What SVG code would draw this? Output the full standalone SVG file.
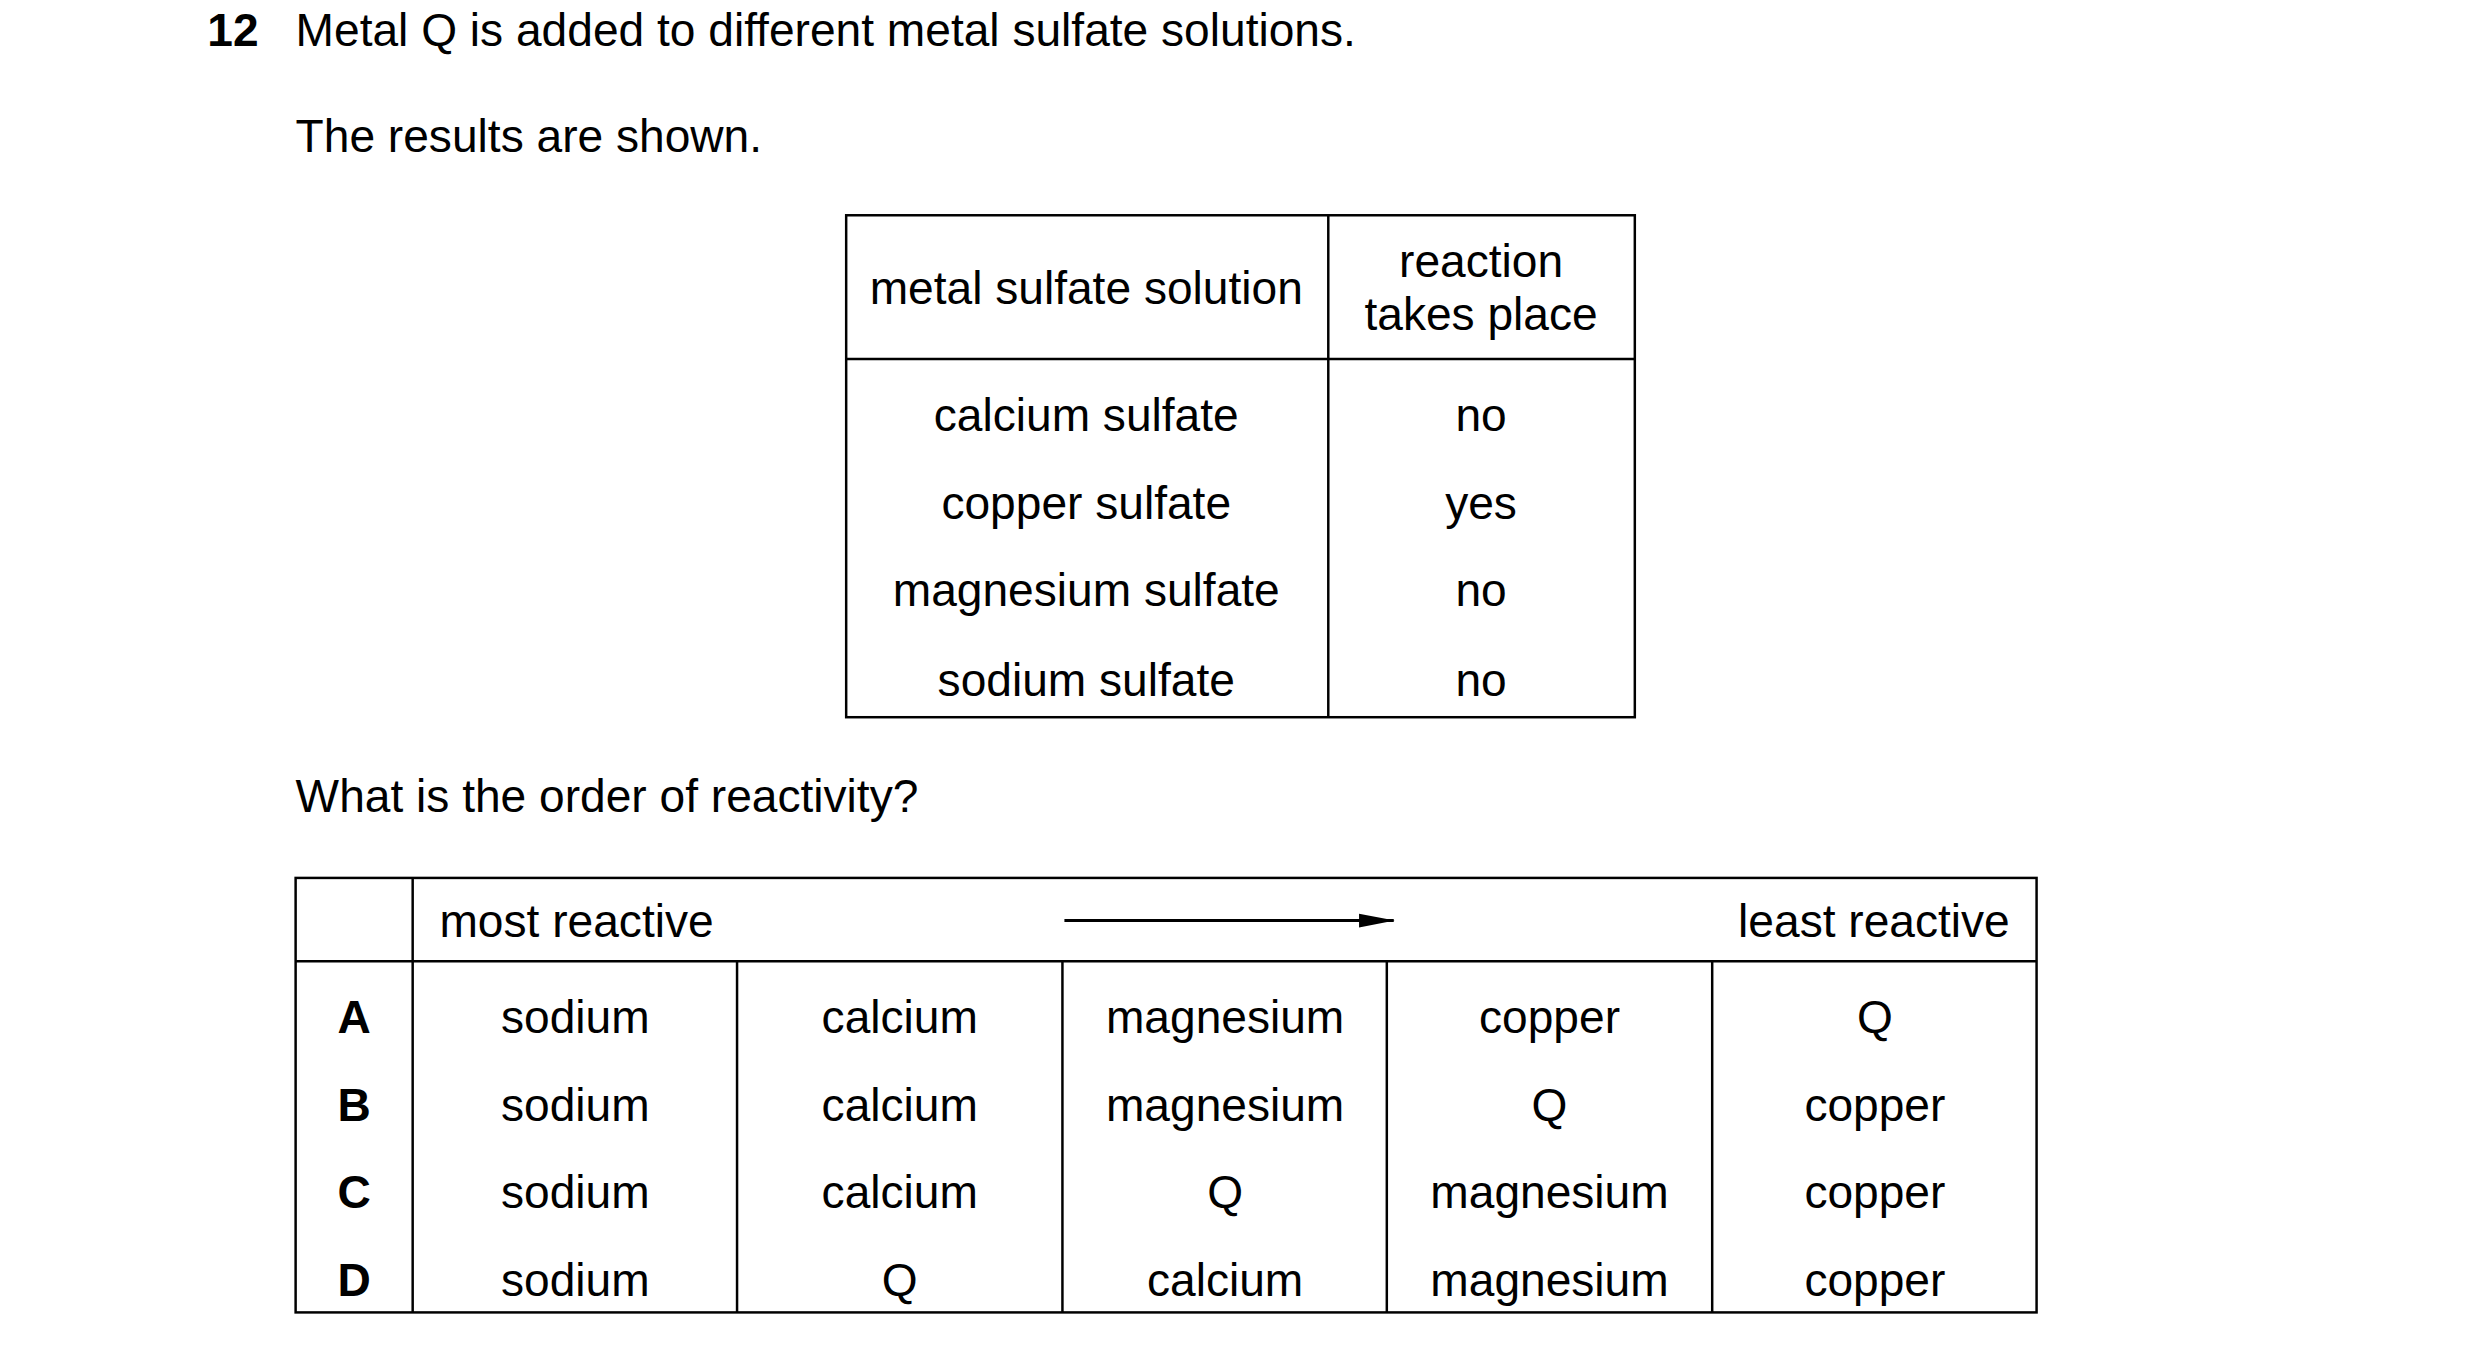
<svg xmlns="http://www.w3.org/2000/svg" width="2480" height="1356" viewBox="0 0 2480 1356">
<style>
text{font-family:"Liberation Sans",Arial,sans-serif;font-size:46.5px;fill:#000}
.c{text-anchor:middle;dominant-baseline:central}
.b{font-weight:bold}
.ln{stroke:#000;stroke-width:2.5;fill:none}
</style>
<defs><marker id="ah" markerWidth="36" markerHeight="16" refX="35" refY="8" orient="auto" markerUnits="userSpaceOnUse"><path d="M0,1 L36,8 L0,15 z"/></marker></defs>
<rect width="2480" height="1356" fill="#fff"/>
<g transform="scale(0.992)">
<text x="209" y="46" class="b">12</text>
<text x="298" y="46">Metal Q is added to different metal sulfate solutions.</text>
<text x="298" y="153">The results are shown.</text>
<g id="table1">
<rect class="ln" x="853" y="217" width="795" height="506"/>
<line class="ln" x1="1339" y1="217" x2="1339" y2="723"/>
<line class="ln" x1="853" y1="362" x2="1648" y2="362"/>
<text class="c" x="1095" y="290">metal sulfate solution</text>
<text class="c" x="1493" y="263">reaction</text>
<text class="c" x="1493" y="317">takes place</text>
<text class="c" x="1095" y="418">calcium sulfate</text>
<text class="c" x="1095" y="507">copper sulfate</text>
<text class="c" x="1095" y="595">magnesium sulfate</text>
<text class="c" x="1095" y="685">sodium sulfate</text>
<text class="c" x="1493" y="418">no</text>
<text class="c" x="1493" y="507">yes</text>
<text class="c" x="1493" y="595">no</text>
<text class="c" x="1493" y="685">no</text>
</g>
<text x="298" y="819">What is the order of reactivity?</text>
<g id="table2">
<rect class="ln" x="298" y="885" width="1755" height="438"/>
<line class="ln" x1="416" y1="885" x2="416" y2="1323"/>
<line class="ln" x1="298" y1="969" x2="2053" y2="969"/>
<line class="ln" x1="743" y1="969" x2="743" y2="1323"/>
<line class="ln" x1="1071" y1="969" x2="1071" y2="1323"/>
<line class="ln" x1="1398" y1="969" x2="1398" y2="1323"/>
<line class="ln" x1="1726" y1="969" x2="1726" y2="1323"/>
<text x="443" y="928" dominant-baseline="central">most reactive</text>
<text x="2026" y="928" dominant-baseline="central" text-anchor="end">least reactive</text>
<text class="c b" x="357" y="1025">A</text>
<text class="c b" x="357" y="1114">B</text>
<text class="c b" x="357" y="1202">C</text>
<text class="c b" x="357" y="1290">D</text>
<text class="c" x="580" y="1025">sodium</text><text class="c" x="907" y="1025">calcium</text><text class="c" x="1235" y="1025">magnesium</text><text class="c" x="1562" y="1025">copper</text><text class="c" x="1890" y="1025">Q</text>
<text class="c" x="580" y="1114">sodium</text><text class="c" x="907" y="1114">calcium</text><text class="c" x="1235" y="1114">magnesium</text><text class="c" x="1562" y="1114">Q</text><text class="c" x="1890" y="1114">copper</text>
<text class="c" x="580" y="1202">sodium</text><text class="c" x="907" y="1202">calcium</text><text class="c" x="1235" y="1202">Q</text><text class="c" x="1562" y="1202">magnesium</text><text class="c" x="1890" y="1202">copper</text>
<text class="c" x="580" y="1290">sodium</text><text class="c" x="907" y="1290">Q</text><text class="c" x="1235" y="1290">calcium</text><text class="c" x="1562" y="1290">magnesium</text><text class="c" x="1890" y="1290">copper</text>
</g>
<g id="connectors">
<line x1="1073" y1="928" x2="1405" y2="928" stroke="#000" stroke-width="3" marker-end="url(#ah)"/>
</g>
</g>
</svg>
